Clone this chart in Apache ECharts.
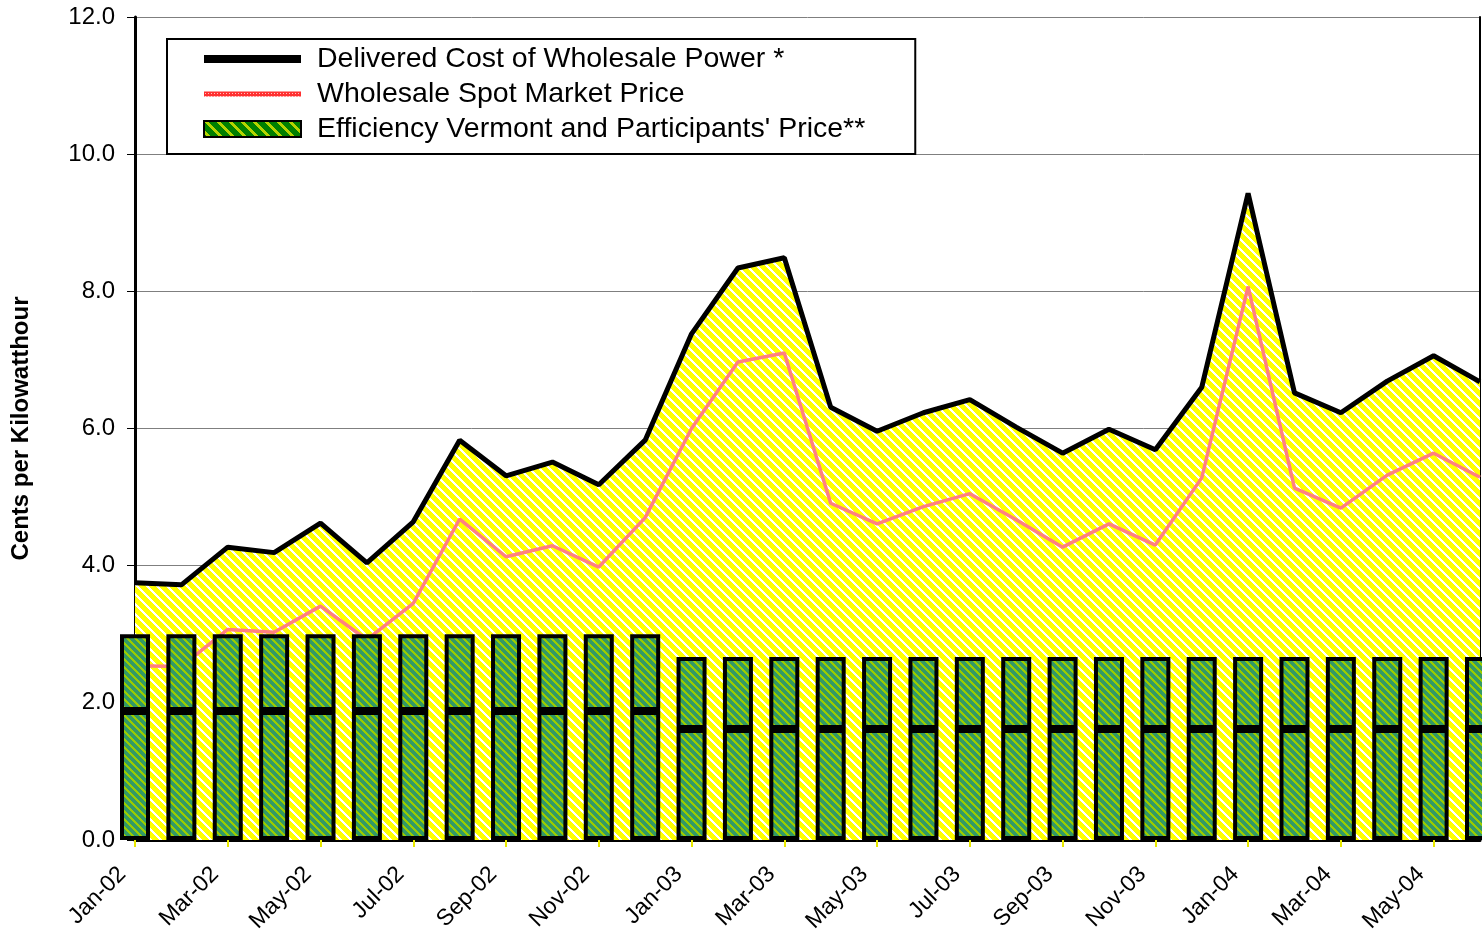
<!DOCTYPE html>
<html lang="en">
<head>
    <meta charset="UTF-8">
    <title>Wholesale Power Cost</title>
    <script src="https://cdn.jsdelivr.net/npm/echarts/dist/echarts.min.js"></script>
    <style>
        html, body { margin: 0; padding: 0; background: #fff; }
        #chart { width: 1482px; height: 935px; }
    </style>
</head>
<body>
<div id="chart"></div>
<script>
    // 数据
    var months = ['Jan-02','Feb-02','Mar-02','Apr-02','May-02','Jun-02','Jul-02','Aug-02','Sep-02','Oct-02','Nov-02','Dec-02',
                  'Jan-03','Feb-03','Mar-03','Apr-03','May-03','Jun-03','Jul-03','Aug-03','Sep-03','Oct-03','Nov-03','Dec-03',
                  'Jan-04','Feb-04','Mar-04','Apr-04','May-04','Jun-04'];
    var delivered = [3.75,3.72,4.27,4.19,4.62,4.04,4.64,5.83,5.31,5.51,5.18,5.83,
                     7.38,8.34,8.49,6.31,5.96,6.23,6.42,6.02,5.64,5.99,5.69,6.60,
                     9.43,6.52,6.23,6.69,7.06,6.68];
    var spot = [2.54,2.53,3.07,3.03,3.41,2.92,3.45,4.68,4.13,4.29,3.98,4.70,
                6.00,6.97,7.10,4.91,4.61,4.86,5.05,4.67,4.27,4.61,4.30,5.28,
                8.07,5.13,4.84,5.32,5.64,5.29];
    var evLower = [1.88,1.88,1.88,1.88,1.88,1.88,1.88,1.88,1.88,1.88,1.88,1.88,
                   1.62,1.62,1.62,1.62,1.62,1.62,1.62,1.62,1.62,1.62,1.62,1.62,
                   1.62,1.62,1.62,1.62,1.62,1.62];
    var evUpper = [1.12,1.12,1.12,1.12,1.12,1.12,1.12,1.12,1.12,1.12,1.12,1.12,
                   1.05,1.05,1.05,1.05,1.05,1.05,1.05,1.05,1.05,1.05,1.05,1.05,
                   1.05,1.05,1.05,1.05,1.05,1.05];
    var names = ['Delivered Cost of Wholesale Power *', 'Wholesale Spot Market Price', "Efficiency Vermont and Participants' Price**"];

    // 斜线图案
    function stripes(size, bg, fg, w) {
        var c = document.createElement('canvas');
        c.width = size; c.height = size;
        var ctx = c.getContext('2d');
        for (var y = 0; y < size; y++) {
            for (var x = 0; x < size; x++) {
                var k = ((x - y) % size + size) % size;
                ctx.fillStyle = k < w ? fg : bg;
                ctx.fillRect(x, y, 1, 1);
            }
        }
        return { image: c, repeat: 'repeat' };
    }
    function dots(bg, fg) {
        var c = document.createElement('canvas');
        c.width = 3; c.height = 3;
        var ctx = c.getContext('2d');
        ctx.fillStyle = bg; ctx.fillRect(0, 0, 3, 3);
        ctx.fillStyle = fg; ctx.fillRect(1, 1, 1, 1);
        return { image: c, repeat: 'repeat' };
    }
    var yellowFill = stripes(10, '#ffff00', '#ffffff', 3);
    var greenFill = stripes(8, '#339966', '#99cc00', 3);
    var legendGreen = stripes(12, '#008000', '#b5d400', 4);
    var legendPink = dots('#ff3030', '#ffc0c0');

    var font = 'Liberation Sans, Arial, sans-serif';
    var chart = echarts.init(document.getElementById('chart'));
    chart.setOption({
        animation: false,
        textStyle: { fontFamily: font, color: '#000' },
        grid: { left: 135, right: 2, top: 17, bottom: 95, outerBoundsMode: 'none' },
        legend: {
            orient: 'vertical',
            left: 167,
            top: 39,
            padding: [5, 50, 10, 36],
            itemGap: 5,
            itemWidth: 97,
            itemHeight: 16,
            backgroundColor: '#fff',
            borderColor: '#000',
            borderWidth: 2,
            selectedMode: false,
            textStyle: { fontSize: 28.5, lineHeight: 30, color: '#000', padding: [0, 0, 0, 11] },
            data: [
                { name: names[0], icon: 'path://M0,0H97V8H0Z', itemStyle: { color: '#000', borderWidth: 0 } },
                { name: names[1], icon: 'path://M0,0H97V5H0Z', itemStyle: { color: legendPink, borderWidth: 0 } },
                { name: names[2], icon: 'rect', itemStyle: { color: legendGreen, borderColor: '#000', borderWidth: 2 } }
            ]
        },
        xAxis: [
            {
                type: 'category',
                data: months,
                boundaryGap: false,
                axisLine: { lineStyle: { color: '#e8e800', width: 2 } },
                axisTick: { interval: 1, length: 7, lineStyle: { color: '#e8e800', width: 2 } },
                axisLabel: { interval: 1, rotate: 45, margin: 18, padding: [0, 18, 0, 0], fontSize: 23, color: '#000', fontFamily: font },
                splitLine: { show: false }
            },
            {
                type: 'category',
                data: months,
                position: 'top',
                boundaryGap: false,
                axisLine: { lineStyle: { color: '#000', width: 3 } },
                axisTick: { show: false },
                axisLabel: { show: false }
            }
        ],
        yAxis: [
            {
                type: 'value',
                min: 0,
                max: 12,
                interval: 2,
                name: 'Cents per Kilowatthour',
                nameLocation: 'middle',
                nameGap: 102,
                nameTextStyle: { fontSize: 24, fontWeight: 'bold', color: '#000', fontFamily: font },
                axisLine: { show: true, lineStyle: { color: '#000', width: 3 } },
                axisTick: { show: true, length: 8, lineStyle: { color: '#000', width: 1 } },
                axisLabel: { fontSize: 24, margin: 20, color: '#000', fontFamily: font,
                    formatter: function (v) { return v.toFixed(1); } },
                splitLine: { lineStyle: { color: '#7f7f7f', width: 1 } }
            },
            {
                type: 'value',
                min: 0,
                max: 12,
                position: 'right',
                axisLine: { show: true, lineStyle: { color: '#000', width: 2 } },
                axisTick: { show: false },
                axisLabel: { show: false },
                splitLine: { show: false }
            }
        ],
        series: [
            {
                name: names[0],
                type: 'line',
                data: delivered,
                symbol: 'none',
                z: 1,
                color: '#000',
                lineStyle: { color: '#000', width: 5 },
                areaStyle: { color: yellowFill, opacity: 1 }
            },
            {
                name: names[1],
                type: 'line',
                data: spot,
                symbol: 'none',
                z: 2,
                color: '#ff8080',
                lineStyle: { color: '#ff8080', width: 3.5 }
            },
            {
                name: names[2],
                type: 'bar',
                stack: 'ev',
                data: evLower,
                barWidth: 30,
                clip: false,
                z: 4,
                itemStyle: { color: greenFill, borderColor: '#000', borderWidth: 4 }
            },
            {
                name: names[2],
                type: 'bar',
                stack: 'ev',
                data: evUpper,
                barWidth: 30,
                clip: false,
                z: 4,
                itemStyle: { color: greenFill, borderColor: '#000', borderWidth: 4 }
            }
        ]
    });
</script>
</body>
</html>
